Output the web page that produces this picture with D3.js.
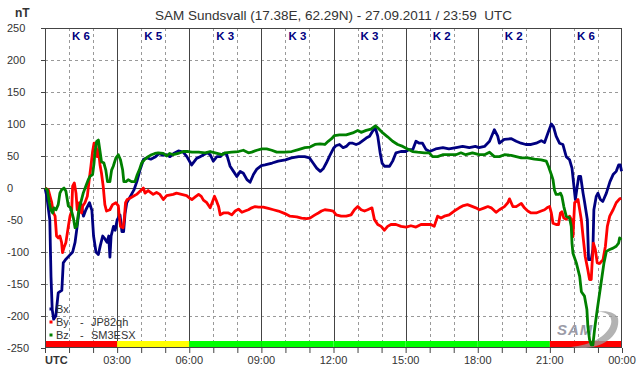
<!DOCTYPE html>
<html>
<head>
<meta charset="utf-8">
<script src="https://cdn.jsdelivr.net/npm/d3@7"></script>
<style>
  body { margin: 0; background: #fff; }
  svg { display: block; font-family: "Liberation Sans", Arial, sans-serif; }
</style>
</head>
<body>
<svg width="642" height="376"></svg>
<script>
// K index for each 3 hour block
const kIndex = [6, 5, 3, 3, 3, 2, 2, 6];
const xTickHours = [0, 3, 6, 9, 12, 15, 18, 21, 24];
const xTickLabels = ["UTC", "03:00", "06:00", "09:00", "12:00", "15:00", "18:00", "21:00", "00:00"];
const yTicks = [250, 200, 150, 100, 50, 0, -50, -100, -150, -200, -250];

// [hour, nT]
const bx = [[0,0],[0.08,-14],[0.2,-50],[0.25,-139],[0.3,-190],[0.36,-205],[0.45,-200],[0.55,-164],[0.62,-162],[0.7,-160],[0.76,-117],[0.85,-112],[1.0,-106],[1.15,-100],[1.25,-85],[1.32,-65],[1.42,-35],[1.5,-25],[1.6,-44],[1.7,-34],[1.85,-23],[1.95,-35],[2.02,-75],[2.12,-100],[2.22,-104],[2.3,-90],[2.4,-75],[2.5,-80],[2.58,-85],[2.65,-75],[2.7,-108],[2.75,-75],[2.85,-60],[2.92,-66],[3.0,-50],[3.12,-42],[3.2,-68],[3.27,-68],[3.33,-40],[3.4,-23],[3.55,-13],[3.7,-3],[3.82,10],[3.95,28],[4.1,45],[4.25,47],[4.4,45],[4.6,49],[4.75,54],[4.9,51],[5.05,52],[5.2,49],[5.35,54],[5.55,58],[5.75,56],[5.9,49],[6.1,36],[6.3,46],[6.45,49],[6.6,52],[6.75,55],[6.87,52],[7.0,42],[7.15,49],[7.3,49],[7.42,54],[7.56,52],[7.7,34],[7.84,26],[7.98,18],[8.12,26],[8.25,23],[8.4,13],[8.53,9],[8.67,21],[8.8,29],[9.0,35],[9.15,36],[9.45,39],[9.7,42],[10.0,44],[10.25,47],[10.55,49],[10.8,49],[11.0,47],[11.15,39],[11.3,31],[11.45,26],[11.57,30],[11.7,39],[11.85,51],[12.0,62],[12.1,66],[12.25,68],[12.4,63],[12.53,65],[12.66,70],[12.8,70],[12.94,68],[13.08,70],[13.22,74],[13.36,78],[13.5,81],[13.63,89],[13.74,94],[13.84,81],[13.94,55],[14.02,39],[14.12,34],[14.33,34],[14.46,42],[14.6,55],[14.8,57],[15.0,57],[15.15,60],[15.3,60],[15.43,73],[15.57,70],[15.7,70],[15.85,60],[16.0,57],[16.25,61],[16.55,63],[16.8,61],[17.1,63],[17.37,65],[17.65,63],[17.9,65],[18.05,63],[18.28,65],[18.49,73],[18.69,91],[18.83,81],[18.9,70],[19.1,76],[19.4,77],[19.6,73],[19.8,70],[20.0,68],[20.22,68],[20.43,70],[20.64,74],[20.78,71],[20.92,86],[21.06,100],[21.15,96],[21.26,81],[21.4,70],[21.54,68],[21.68,49],[21.82,44],[21.92,31],[22.0,3],[22.06,-18],[22.14,3],[22.2,18],[22.28,18],[22.38,-8],[22.44,-21],[22.56,-50],[22.61,-112],[22.72,-112],[22.79,-96],[22.83,-34],[22.93,-13],[23.0,-8],[23.1,-18],[23.2,-21],[23.35,-8],[23.5,10],[23.63,21],[23.76,26],[23.86,36],[23.93,36],[23.98,26]];

const by = [[0,0],[0.14,-3],[0.21,-13],[0.28,-23],[0.35,-39],[0.42,-44],[0.48,-75],[0.55,-78],[0.62,-75],[0.69,-85],[0.73,-101],[0.79,-93],[0.87,-85],[0.97,-60],[1.04,-44],[1.11,-36],[1.15,3],[1.22,8],[1.29,-8],[1.34,-34],[1.43,-23],[1.52,-39],[1.57,-28],[1.66,-23],[1.76,-13],[1.84,13],[1.91,34],[1.98,57],[2.04,70],[2.12,70],[2.17,49],[2.22,60],[2.29,36],[2.35,23],[2.42,3],[2.49,-26],[2.56,-36],[2.7,-34],[2.81,-26],[2.95,-23],[3.05,-28],[3.09,-44],[3.14,-60],[3.25,-62],[3.3,-47],[3.35,-23],[3.42,-18],[3.53,-16],[3.67,-13],[3.81,-10],[3.95,-5],[4.09,0],[4.16,-8],[4.29,-4],[4.5,-10],[4.64,-7],[4.78,-10],[4.92,-18],[5.06,-12],[5.33,-10],[5.47,-8],[5.68,-10],[5.89,-12],[6.02,-16],[6.11,-18],[6.25,-14],[6.39,-10],[6.5,-13],[6.59,-19],[6.73,-23],[6.87,-31],[6.97,-21],[7.05,-13],[7.11,-18],[7.22,-29],[7.29,-42],[7.42,-39],[7.63,-39],[7.77,-42],[7.91,-36],[8.05,-33],[8.19,-38],[8.32,-36],[8.46,-34],[8.6,-31],[8.74,-29],[8.88,-30],[9.08,-30],[9.29,-32],[9.5,-34],[9.71,-36],[9.98,-40],[10.19,-44],[10.47,-45],[10.67,-47],[10.88,-48],[11.02,-47],[11.23,-42],[11.37,-39],[11.5,-36],[11.64,-34],[11.85,-35],[11.99,-36],[12.11,-42],[12.32,-44],[12.53,-44],[12.73,-42],[12.87,-34],[13.01,-29],[13.15,-34],[13.29,-36],[13.42,-34],[13.6,-31],[13.7,-49],[13.84,-57],[13.98,-60],[14.12,-66],[14.25,-60],[14.39,-57],[14.6,-57],[14.81,-60],[15.02,-61],[15.22,-59],[15.43,-61],[15.64,-57],[15.85,-57],[16.05,-57],[16.19,-60],[16.33,-44],[16.47,-47],[16.61,-44],[16.81,-42],[17.02,-36],[17.23,-31],[17.37,-28],[17.57,-26],[17.71,-28],[17.92,-31],[18.07,-34],[18.28,-31],[18.42,-29],[18.56,-31],[18.76,-38],[18.9,-34],[19.11,-29],[19.25,-23],[19.32,-17],[19.46,-29],[19.6,-29],[19.81,-24],[19.94,-31],[20.08,-36],[20.22,-39],[20.43,-39],[20.64,-36],[20.78,-34],[20.92,-30],[20.99,-29],[21.06,-39],[21.13,-55],[21.26,-57],[21.36,-57],[21.44,-39],[21.5,-37],[21.58,-47],[21.68,-49],[21.82,-44],[21.89,-49],[21.96,-76],[22.03,-23],[22.1,-21],[22.17,-18],[22.24,-34],[22.31,-50],[22.38,-76],[22.47,-107],[22.58,-128],[22.65,-143],[22.72,-143],[22.75,-122],[22.81,-86],[22.89,-96],[22.97,-117],[23.07,-118],[23.21,-112],[23.31,-91],[23.39,-60],[23.49,-44],[23.63,-34],[23.76,-23],[23.9,-17],[23.97,-16]];

const bz = [[0,0],[0.1,-3],[0.18,-23],[0.24,-34],[0.32,-39],[0.37,-31],[0.46,-34],[0.55,-26],[0.62,-8],[0.69,-3],[0.79,0],[0.87,-5],[0.97,-28],[1.07,-31],[1.18,-47],[1.25,-62],[1.32,-60],[1.39,-39],[1.45,-28],[1.52,-18],[1.59,-8],[1.7,3],[1.8,13],[1.87,18],[1.98,21],[2.04,39],[2.08,57],[2.15,73],[2.22,75],[2.29,57],[2.35,41],[2.45,39],[2.53,28],[2.6,10],[2.7,10],[2.77,28],[2.84,34],[2.95,47],[3.05,52],[3.14,44],[3.23,28],[3.28,10],[3.37,10],[3.46,13],[3.6,10],[3.74,10],[3.84,21],[3.92,28],[4.02,39],[4.16,45],[4.29,49],[4.43,52],[4.57,54],[4.71,55],[4.92,54],[5.06,50],[5.19,54],[5.33,52],[5.54,54],[5.75,57],[5.96,57],[6.11,56],[6.39,56],[6.66,55],[6.87,57],[7.08,55],[7.36,52],[7.49,55],[7.77,56],[8.05,57],[8.25,59],[8.46,55],[8.6,56],[8.81,59],[9.02,61],[9.22,61],[9.43,59],[9.64,56],[9.98,56],[10.26,57],[10.54,60],[10.81,63],[11.02,64],[11.23,68],[11.44,69],[11.64,68],[11.78,73],[11.92,77],[12.04,82],[12.25,83],[12.53,83],[12.8,86],[13.01,90],[13.15,87],[13.36,90],[13.56,92],[13.74,97],[13.84,94],[14.05,86],[14.25,80],[14.46,73],[14.67,68],[14.88,65],[15.08,61],[15.29,57],[15.5,56],[15.78,55],[15.98,55],[16.12,49],[16.33,49],[16.54,52],[16.81,52],[17.09,52],[17.3,55],[17.5,52],[17.78,55],[18.06,52],[18.28,52],[18.49,56],[18.69,49],[18.9,49],[19.11,52],[19.39,51],[19.6,49],[19.81,47],[20.08,47],[20.36,45],[20.64,44],[20.85,42],[20.94,34],[21.06,21],[21.13,13],[21.19,-3],[21.26,-10],[21.36,-10],[21.44,-8],[21.5,-13],[21.58,-29],[21.68,-44],[21.82,-47],[21.89,-60],[21.92,-86],[21.96,-102],[22.1,-117],[22.24,-138],[22.31,-162],[22.44,-169],[22.54,-190],[22.58,-216],[22.65,-237],[22.72,-245],[22.79,-245],[22.86,-221],[22.97,-190],[23.07,-164],[23.17,-138],[23.25,-117],[23.35,-99],[23.49,-96],[23.63,-94],[23.76,-91],[23.86,-86],[23.9,-78],[23.97,-81]];

const series = [
    {name: "Bx", station: "", values: bx, color: "#000080"},
    {name: "By", station: "JP82qh", values: by, color: "#ff0000"},
    {name: "Bz", station: "SM3ESX", values: bz, color: "#008000"}
];

const svg = d3.select("svg");
const plotLeft = 45, plotRight = 622, plotTop = 28, plotBottom = 348;
const textColor = "#333";

const x = d3.scaleLinear().domain([0, 24]).range([plotLeft, plotRight]);
const y = d3.scaleLinear().domain([-250, 250]).range([plotBottom, plotTop]);

function kColor(k) {
    if (k >= 6) return "#ff0000";
    if (k >= 5) return "#ffff00";
    return "#00ff00";
}

// grid
const grid = svg.append("g");
grid.selectAll(".hgrid")
    .data(yTicks.filter(function(d) { return d !== 0 && Math.abs(d) !== 250; }))
    .enter().append("line")
    .attr("x1", plotLeft).attr("x2", plotRight)
    .attr("y1", function(d) { return y(d) + 0.5; })
    .attr("y2", function(d) { return y(d) + 0.5; })
    .attr("stroke", "#999")
    .attr("stroke-dasharray", "3,3");

grid.selectAll(".vgrid")
    .data(d3.range(1, 24).filter(function(h) { return h % 3 !== 0; }))
    .enter().append("line")
    .attr("x1", function(d) { return Math.round(x(d)) + 0.5; })
    .attr("x2", function(d) { return Math.round(x(d)) + 0.5; })
    .attr("y1", plotTop).attr("y2", plotBottom)
    .attr("stroke", "#999")
    .attr("stroke-dasharray", "3,3");

// K index bar at the bottom
svg.append("g").selectAll("rect")
    .data(kIndex)
    .enter().append("rect")
    .attr("x", function(d, i) { return x(i * 3); })
    .attr("width", function(d, i) { return x(i * 3 + 3) - x(i * 3); })
    .attr("y", plotBottom - 7)
    .attr("height", 7)
    .attr("fill", function(d) { return kColor(d); });

grid.selectAll(".vsolid")
    .data([3, 6, 9, 12, 15, 18, 21])
    .enter().append("line")
    .attr("x1", function(d) { return Math.round(x(d)) + 0.5; })
    .attr("x2", function(d) { return Math.round(x(d)) + 0.5; })
    .attr("y1", plotTop).attr("y2", plotBottom)
    .attr("stroke", "#444");

grid.append("line")
    .attr("x1", plotLeft).attr("x2", plotRight)
    .attr("y1", y(0) + 0.5).attr("y2", y(0) + 0.5)
    .attr("stroke", "#444");

svg.append("rect")
    .attr("x", plotLeft + 0.5).attr("y", plotTop + 0.5)
    .attr("width", plotRight - plotLeft - 1).attr("height", plotBottom - plotTop - 1)
    .attr("fill", "none")
    .attr("stroke", "#444");

// SAM logo
const logo = svg.append("g").attr("opacity", 0.75);
logo.append("path")
    .attr("d", "M571,347 C598,352 621,338 618,318 C615,312 606,310 596,312 C606,311 613,316 611,324 C607,337 590,345 571,347 Z")
    .attr("fill", "#9a9a9a");
logo.append("text")
    .attr("x", 557).attr("y", 335)
    .attr("font-size", 15)
    .attr("font-style", "italic")
    .attr("font-weight", "bold")
    .attr("letter-spacing", 1)
    .attr("fill", "#7a7a8a")
    .text("SAM");

// axis ticks
svg.append("g")
    .attr("transform", "translate(" + plotLeft + ",0)")
    .call(d3.axisLeft(y).tickValues(yTicks).tickSize(4).tickFormat(""))
    .call(function(g) { g.select(".domain").remove(); })
    .selectAll("line").attr("stroke", "#444");

svg.append("g")
    .attr("transform", "translate(0," + plotBottom + ")")
    .call(d3.axisBottom(x).tickValues(d3.range(0, 25)).tickSize(5).tickFormat(""))
    .call(function(g) { g.select(".domain").remove(); })
    .selectAll("line").attr("stroke", "#444");

// data lines
const line = d3.line()
    .x(function(d) { return x(d[0]); })
    .y(function(d) { return y(d[1]); });

svg.append("g").selectAll("path")
    .data(series)
    .enter().append("path")
    .attr("d", function(d) { return line(d.values); })
    .attr("fill", "none")
    .attr("stroke", function(d) { return d.color; })
    .attr("stroke-width", 2.8)
    .attr("stroke-linejoin", "round");

// legend
const legend = svg.append("g").selectAll("g")
    .data(series)
    .enter().append("g")
    .attr("transform", function(d, i) { return "translate(51," + (309 + i * 13) + ")"; });
legend.append("rect")
    .attr("x", -1.5).attr("y", -1.5).attr("width", 3).attr("height", 3)
    .attr("fill", function(d) { return d.color; });
legend.append("text")
    .attr("x", 5).attr("dy", "0.35em")
    .attr("font-size", 11)
    .attr("fill", textColor)
    .text(function(d) { return d.name; });
legend.filter(function(d) { return d.station !== ""; }).append("text")
    .attr("x", 29).attr("dy", "0.35em")
    .attr("font-size", 11)
    .attr("fill", textColor)
    .text("-");
legend.filter(function(d) { return d.station !== ""; }).append("text")
    .attr("x", 40).attr("dy", "0.35em")
    .attr("font-size", 11)
    .attr("fill", textColor)
    .text(function(d) { return d.station; });

// y labels, left aligned
svg.append("g").selectAll("text")
    .data(yTicks)
    .enter().append("text")
    .attr("x", 7)
    .attr("y", function(d) { return y(d); })
    .attr("dy", "0.35em")
    .attr("font-size", 11)
    .attr("fill", textColor)
    .text(function(d) { return d; });

// x labels
svg.append("g").selectAll("text")
    .data(xTickHours)
    .enter().append("text")
    .attr("x", function(d) { return x(d); })
    .attr("y", 360)
    .attr("dy", "0.35em")
    .attr("text-anchor", function(d, i) { return i === 0 ? "start" : "middle"; })
    .attr("font-size", 11)
    .attr("font-weight", function(d, i) { return i === 0 ? "bold" : "normal"; })
    .attr("fill", textColor)
    .text(function(d, i) { return xTickLabels[i]; });

// K labels on top
svg.append("g").selectAll("text")
    .data(kIndex)
    .enter().append("text")
    .attr("x", function(d, i) { return x(i * 3 + 1.5); })
    .attr("y", 36)
    .attr("dy", "0.35em")
    .attr("text-anchor", "middle")
    .attr("font-size", 11.5)
    .attr("font-weight", "bold")
    .attr("fill", "#000080")
    .text(function(d) { return "K " + d; });

svg.append("text")
    .attr("x", 15).attr("y", 13)
    .attr("dy", "0.35em")
    .attr("font-size", 12)
    .attr("font-weight", "bold")
    .attr("fill", textColor)
    .text("nT");

svg.append("text")
    .attr("x", (plotLeft + plotRight) / 2).attr("y", 15)
    .attr("dy", "0.35em")
    .attr("text-anchor", "middle")
    .attr("font-size", 13.5)
    .attr("fill", textColor)
    .style("white-space", "pre")
    .text("SAM Sundsvall (17.38E, 62.29N) - 27.09.2011 / 23:59  UTC");
</script>
</body>
</html>
